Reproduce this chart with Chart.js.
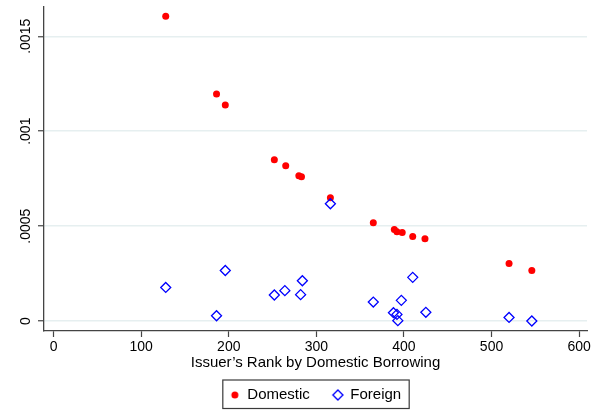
<!DOCTYPE html>
<html lang="en">
<head>
<meta charset="UTF-8">
<title>Issuer rank by domestic borrowing</title>
<script src="https://cdn.jsdelivr.net/npm/chart.js"></script>
<style>
  html, body { margin: 0; padding: 0; background: #fff; }
  .chart-box { width: 601px; height: 414px; }
</style>
</head>
<body>
<div class="chart-box"><canvas id="rankChart" width="601" height="414"></canvas></div>
<script>
// values
const domesticRank  = [128, 186, 196, 252, 265, 280, 283, 316, 365, 389, 392, 398, 410, 424, 520, 546];
const domesticShare = [0.001606, 0.001196, 0.001138, 0.000849, 0.000818, 0.000766, 0.000760, 0.000650,
                       0.000518, 0.000482, 0.000471, 0.000466, 0.000445, 0.000434, 0.000303, 0.000266];
const foreignRank   = [128, 186, 196, 252, 264, 282, 284, 316, 365, 388, 392, 393, 397, 410, 425, 520, 546];
const foreignShare  = [0.000177, 0.000028, 0.000266, 0.000137, 0.000160, 0.000139, 0.000212, 0.000618,
                       0.000100, 0.000044, 0.000035, 0.000002, 0.000109, 0.000230, 0.000046, 0.000019, 0.000000];
const xTicks = [0, 100, 200, 300, 400, 500, 600];
const yTicks = [0, 0.0005, 0.001, 0.0015];
const seriesNames = ['Domestic', 'Foreign'];

Chart.defaults.font.family = '"Liberation Sans", Arial, sans-serif';

const toPoints = (xs, ys) => xs.map((x, i) => ({ x: x, y: ys[i] }));
// Stata style: .0005 instead of 0.0005
const yLabel = v => (v === 0 ? '0' : String(v).replace(/^0/, ''));

// small legend icons so the key markers keep the plot marker sizes
function makeIcon(draw) {
    const c = document.createElement('canvas');
    c.width = 14; c.height = 14;
    draw(c.getContext('2d'));
    return c;
}
const icons = [
    makeIcon(g => { g.fillStyle = '#ff0000'; g.beginPath(); g.arc(7, 7, 3.5, 0, Math.PI * 2); g.fill(); }),
    makeIcon(g => {
        g.strokeStyle = '#0000ff'; g.lineWidth = 1.4;
        g.beginPath(); g.moveTo(7, 2); g.lineTo(12, 7); g.lineTo(7, 12); g.lineTo(2, 7); g.closePath(); g.stroke();
    })
];

// frame around the legend like Stata does
const legendFrame = {
    id: 'legendFrame',
    afterDraw(chart) {
        const hb = chart.legend && chart.legend.legendHitBoxes;
        if (!hb || !hb.length) return;
        const last = hb[hb.length - 1];
        const left = hb[0].left - 7, right = last.left + last.width + 8;
        const top = hb[0].top - 7.5, bottom = hb[0].top + hb[0].height + 6;
        const ctx = chart.ctx;
        ctx.save();
        ctx.strokeStyle = '#3a3a3a';
        ctx.lineWidth = 1.2;
        ctx.strokeRect(left, top, right - left, bottom - top);
        ctx.restore();
    }
};

new Chart(document.getElementById('rankChart'), {
    type: 'scatter',
    data: {
        datasets: [{
            label: seriesNames[0],
            data: toPoints(domesticRank, domesticShare),
            pointStyle: 'circle',
            pointRadius: 3.5,
            backgroundColor: '#ff0000',
            borderColor: '#ff0000',
            borderWidth: 0,
            order: 1
        }, {
            label: seriesNames[1],
            data: toPoints(foreignRank, foreignShare),
            pointStyle: 'rectRot',
            pointRadius: 5,
            backgroundColor: 'rgba(0,0,0,0)',
            borderColor: '#0000ff',
            borderWidth: 1.3,
            order: 0
        }]
    },
    options: {
        responsive: false,
        animation: false,
        events: [],
        layout: { padding: { top: 5, right: 14, bottom: 1.5, left: 0 } },
        scales: {
            x: {
                type: 'linear',
                min: -11,
                max: 609,
                afterBuildTicks: s => { s.ticks = xTicks.map(v => ({ value: v })); },
                afterFit: s => { s.height = 33.5; s.paddingLeft = 0; s.paddingRight = 0; },
                grid: { drawOnChartArea: false, drawTicks: true, tickLength: 6, tickColor: '#444', tickWidth: 1.2 },
                border: { color: '#444', width: 1.3 },
                ticks: { color: '#000', font: { size: 14 }, padding: 2, maxRotation: 0, autoSkip: false },
                title: {
                    display: true,
                    text: 'Issuer’s Rank by Domestic Borrowing',
                    color: '#000',
                    font: { size: 15 },
                    padding: { top: 0, bottom: -7 }
                }
            },
            y: {
                type: 'linear',
                min: -0.0000525,
                max: 0.001658,
                afterBuildTicks: s => { s.ticks = yTicks.map(v => ({ value: v })); },
                afterFit: s => { s.width = 44; s.paddingTop = 0; s.paddingBottom = 0; },
                grid: { color: '#e6eff0', lineWidth: 1.5, tickLength: 6, tickColor: '#444', tickWidth: 1.2 },
                border: { color: '#444', width: 1.3 },
                ticks: {
                    color: '#000',
                    font: { size: 14 },
                    minRotation: 90,
                    maxRotation: 90,
                    crossAlign: 'center',
                    padding: -5.5,
                    autoSkip: false,
                    callback: v => yLabel(v)
                }
            }
        },
        plugins: {
            legend: {
                position: 'bottom',
                fullSize: false,
                labels: {
                    usePointStyle: true,
                    boxWidth: 10,
                    boxHeight: 10,
                    padding: 23,
                    color: '#000',
                    font: { size: 15 },
                    generateLabels: chart => Chart.defaults.plugins.legend.labels.generateLabels(chart)
                        .map(item => Object.assign(item, { pointStyle: icons[item.datasetIndex] })),
                    sort: (a, b) => a.datasetIndex - b.datasetIndex
                }
            },
            tooltip: { enabled: false }
        }
    },
    plugins: [legendFrame]
});
</script>
</body>
</html>
